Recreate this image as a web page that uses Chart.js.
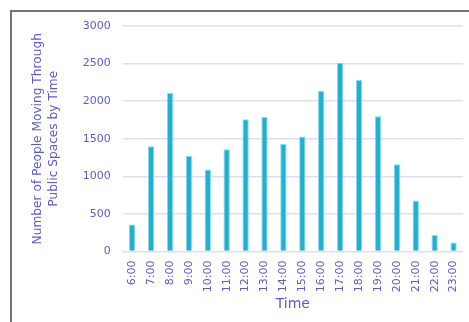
<!DOCTYPE html>
<html>
<head>
<meta charset="utf-8">
<script src="https://cdn.jsdelivr.net/npm/chart.js@4"></script>
<style>
    html, body { margin: 0; padding: 0; background: #fff; }
    #wrap { position: relative; width: 469px; height: 322px; overflow: hidden; }
    #frame {
        position: absolute; left: 10px; top: 10px; width: 480px; height: 330px;
        border-top: 2px solid #6b7680; border-left: 2px solid #6b7680;
    }
    #chart-time { position: absolute; left: 0; top: 0; }
</style>
</head>
<body>
<div id="wrap">
    <div id="frame"></div>
    <canvas id="chart-time" width="469" height="322"></canvas>
</div>
<script>
const HOURS = ['6:00', '7:00', '8:00', '9:00', '10:00', '11:00', '12:00', '13:00', '14:00',
               '15:00', '16:00', '17:00', '18:00', '19:00', '20:00', '21:00', '22:00', '23:00'];
const PEOPLE = [360, 1400, 2110, 1270, 1090, 1360, 1760, 1790, 1430,
                1530, 2140, 2510, 2280, 1800, 1160, 680, 220, 120];
const Y_TICKS = [0, 500, 1000, 1500, 2000, 2500, 3000];

const TEXT = '#5b5bd3';
const GRID = '#dedcf6';
const FONT = 'DejaVu Sans';

new Chart(document.getElementById('chart-time'), {
    type: 'bar',
    data: {
        labels: HOURS,
        datasets: [{
            label: 'People',
            data: PEOPLE,
            backgroundColor: '#20b0d0',
            borderColor: '#8ad9ec',
            borderWidth: { left: 1, right: 1, top: 1, bottom: 0 },
            barPercentage: 0.42,
            categoryPercentage: 0.8,
        }],
    },
    options: {
        responsive: false,
        animation: false,
        layout: { padding: { left: 30, right: 6, top: 26, bottom: 9 } },
        plugins: { legend: { display: false }, tooltip: { enabled: false } },
        scales: {
            x: {
                grid: { display: false },
                border: { display: false },
                ticks: {
                    color: TEXT, font: { family: FONT, size: 11 },
                    maxRotation: 90, minRotation: 90, padding: 1,
                },
                title: {
                    display: true, text: 'Time', color: TEXT,
                    font: { family: FONT, size: 14 }, padding: { top: 3, bottom: 0 },
                },
            },
            y: {
                min: 0, max: 3000,
                afterBuildTicks: axis => { axis.ticks = Y_TICKS.map(v => ({ value: v })); },
                grid: { color: GRID, lineWidth: 1.5, drawTicks: false },
                border: { display: false },
                ticks: {
                    color: TEXT, font: { family: FONT, size: 11 }, padding: 12,
                    callback: v => String(v),
                },
                title: {
                    display: true,
                    text: ['Number of People Moving Through', 'Public Spaces by Time'],
                    color: TEXT, font: { family: FONT, size: 12.2, lineHeight: 1.3 },
                    padding: { top: 0, bottom: 9 },
                },
            },
        },
    },
});
</script>
</body>
</html>
